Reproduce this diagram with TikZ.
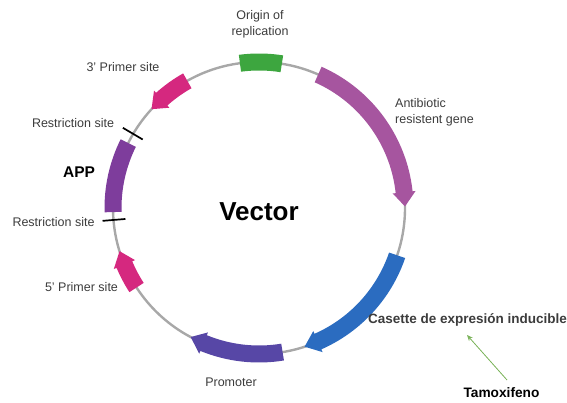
\documentclass[tikz,border=0pt]{standalone}
\usepackage{fontspec}
\setmainfont{Liberation Sans}
\usetikzlibrary{arrows.meta}
\definecolor{ringgray}{HTML}{A8A8A8}
\definecolor{origreen}{HTML}{3DA63F}
\definecolor{antipurple}{HTML}{A6559F}
\definecolor{casblue}{HTML}{2B6CC0}
\definecolor{promviolet}{HTML}{5747A6}
\definecolor{primpink}{HTML}{D5287F}
\definecolor{apppurple}{HTML}{7E3D9C}
\definecolor{labelgray}{HTML}{3C3C3C}
\definecolor{tamgreen}{HTML}{7BB35A}
\def\plR{146}
\def\plRo{154.5}
\def\plRi{137.5}
\def\plRho{157.5}
\def\plRhi{134.5}
\newcommand{\plarrow}[4]{%
  \fill[#4] (#1:\plRo) arc[start angle=#1, end angle=#2, radius=\plRo]
    -- (#2:\plRho) -- (#3:\plR) -- (#2:\plRhi)
    -- (#2:\plRi) arc[start angle=#2, end angle=#1, radius=\plRi] -- cycle;}
\newcommand{\plblock}[3]{%
  \fill[#3] (#1:\plRo) arc[start angle=#1, end angle=#2, radius=\plRo]
    -- (#2:\plRi) arc[start angle=#2, end angle=#1, radius=\plRi] -- cycle;}
\tikzset{
  lbl/.style={text=labelgray, font=\fontsize{12.5}{16}\selectfont, inner sep=0pt},
  boldlbl/.style={font=\bfseries, inner sep=0pt},
  site/.style={black, line width=1.7pt}
}
\begin{document}
\begin{tikzpicture}[x=1pt,y=1pt]
\useasboundingbox (-259,208) rectangle (308,-195);
% ring
\draw[ringgray, line width=2.4pt] (0,0) circle[radius=\plR];
% features
\plblock{81}{97.5}{origreen}
\plarrow{66.1}{6.2}{0.6}{antipurple}
\plarrow{-18.9}{-66.2}{-71.8}{casblue}
\plarrow{-80.7}{-112.3}{-117.9}{promviolet}
\plarrow{213}{202.8}{197.2}{primpink}
\plarrow{119.4}{131.8}{137.4}{primpink}
\plblock{153.6}{181.6}{apppurple}
% restriction sites
\draw[site] (149.5:135) -- (149.5:158);
\draw[site] (184.7:134) -- (184.7:157);
% labels
\node[lbl, align=center] (ori) at (1,184) {Origin of\\replication};
\node[lbl] (p3) at (-136,141) {3' Primer site};
\node[lbl] (rs1) at (-186,85) {Restriction site};
\node[boldlbl, font=\bfseries\fontsize{15.5}{18}\selectfont] (app) at (-180,36) {APP};
\node[lbl, align=left, anchor=west] (abr) at (136,96) {Antibiotic\\resistent gene};
\node[boldlbl, font=\bfseries\fontsize{26}{30}\selectfont] (vec) at (0,-4) {Vector};
\node[lbl] (rs2) at (-205.5,-14) {Restriction site};
\node[lbl] (p5) at (-177.5,-79) {5' Primer site};
\node[lbl] (prom) at (-28,-174) {Promoter};
\node[boldlbl, text=labelgray, font=\bfseries\fontsize{13.5}{16}\selectfont] (cas) at (208.5,-112) {Casette de expresión inducible};
\node[boldlbl, font=\bfseries\fontsize{13.7}{16}\selectfont] (tam) at (242.5,-185) {Tamoxifeno};
\coordinate (tamtail) at (248,-172);
\coordinate (cashead) at (208,-127);
\draw[tamgreen, line width=0.8pt, -{Stealth[length=6pt,width=5pt]}] (tamtail) -- (cashead);
\end{tikzpicture}
\end{document}
